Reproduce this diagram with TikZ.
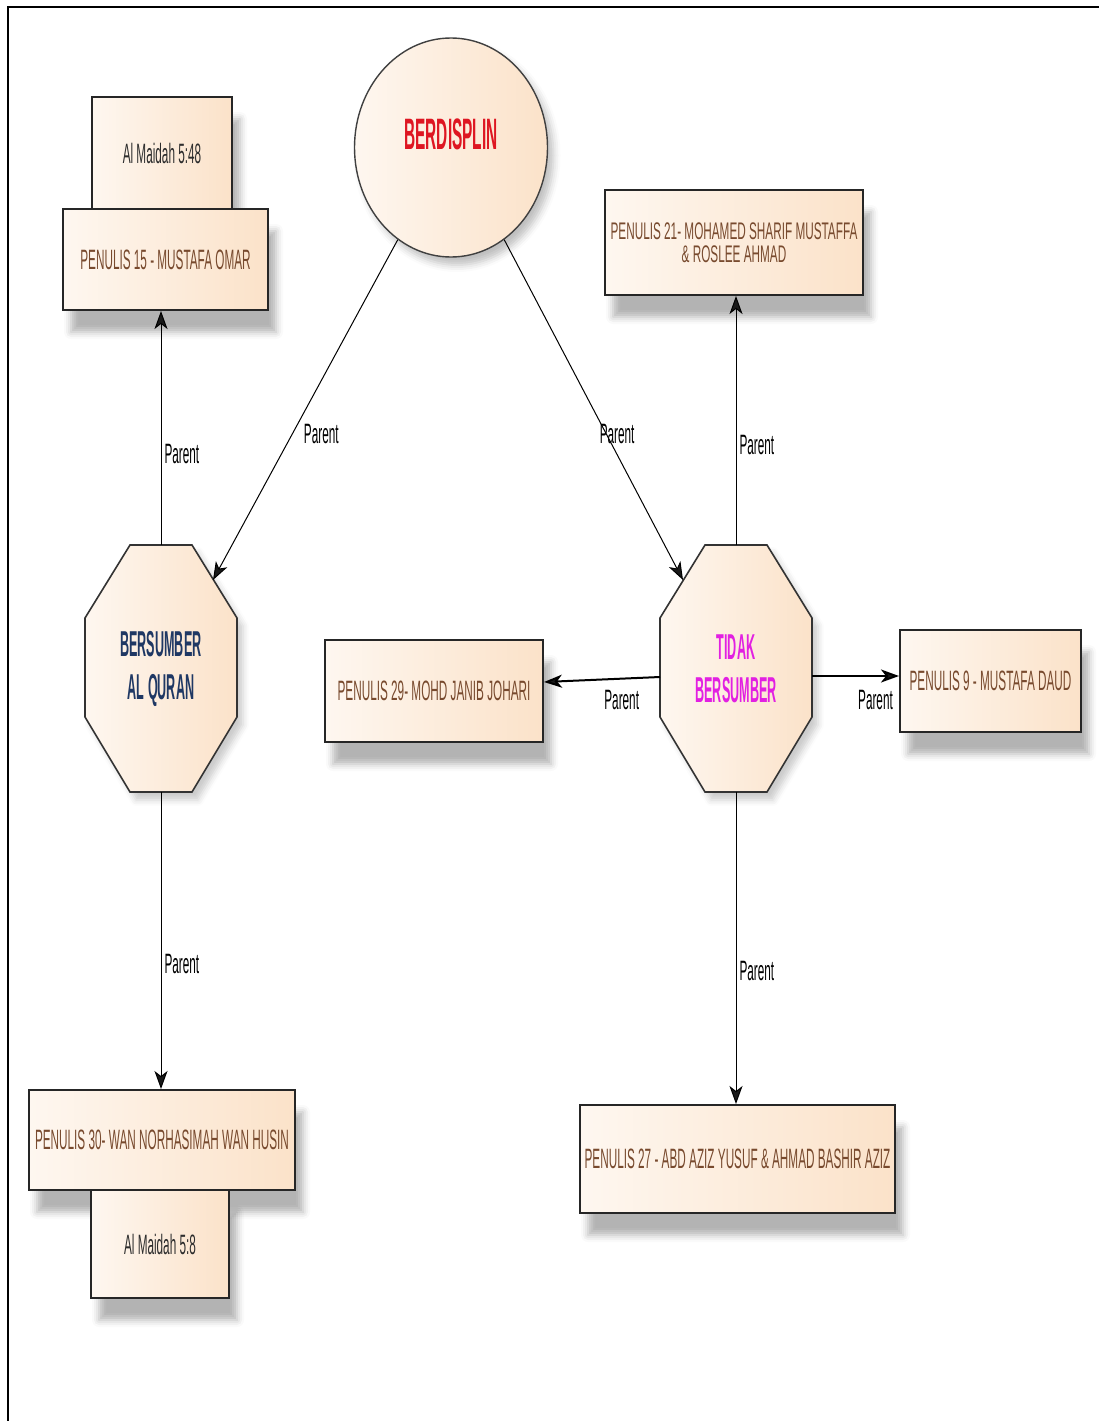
\documentclass[tikz,border=0pt]{standalone}
\usepackage{fontspec}
\setmainfont{Liberation Sans}[FakeStretch=0.42]
\newfontfamily\headfont{Liberation Sans}[FakeStretch=0.35]
\newfontfamily\twolinefont{Liberation Sans}[FakeStretch=0.49]
\usetikzlibrary{arrows.meta,shapes.geometric,shadows.blur}

\definecolor{peachL}{RGB}{254,247,240}
\definecolor{peachR}{RGB}{251,226,201}
\definecolor{discred}{RGB}{222,22,34}
\definecolor{navy}{RGB}{31,56,100}
\definecolor{tdpink}{RGB}{226,32,226}
\definecolor{penbrown}{RGB}{120,74,46}
\definecolor{ayatgrey}{RGB}{45,45,45}

\tikzset{
  softshadow/.style={blur shadow={shadow xshift=8pt,shadow yshift=-22pt,shadow blur radius=7pt,shadow opacity=30}},
  box/.style={draw=black!85,line width=2pt,left color=peachL,right color=peachR,
    inner sep=2pt,align=center,text=penbrown,font=\fontsize{28}{32}\selectfont,softshadow},
  ayat/.style={box,text=ayatgrey},
  disc/.style={ellipse,draw=black!75,line width=1.4pt,left color=peachL,right color=peachR,
    minimum width=193pt,minimum height=219pt,inner sep=0pt,
    blur shadow={shadow xshift=6pt,shadow yshift=-8pt,shadow blur radius=7pt,shadow opacity=25}},
  octa/.style={draw=black!80,line width=1.6pt,left color=peachL,right color=peachR,
    blur shadow={shadow xshift=6pt,shadow yshift=-8pt,shadow blur radius=6pt,shadow opacity=20}},
  octtext/.style={minimum width=152pt,minimum height=247pt,inner sep=0pt,align=center,
    font=\headfont\bfseries\fontsize{36}{43}\selectfont},
  parent/.style={-{Stealth[length=18pt,width=13pt,inset=5pt]},line width=1pt},
  lbl/.style={inner sep=3pt,font=\fontsize{28}{32}\selectfont}
}

\begin{document}
\begin{tikzpicture}[x=1pt,y=-1pt]
\useasboundingbox (0,0) rectangle (1099,1421);
% frame
\draw[line width=2.5pt] (8,1421) -- (8,7) -- (1099,7);

% main theme
\node[disc] (disc) at (451,147.5) {};
\node[text=discred,font=\headfont\bfseries\fontsize{44}{48}\selectfont] (discname) at (451,134) {BERDISPLIN};

% the two octagons
\draw[octa] (130,545) -- (192,545) -- (237,618) -- (237,717) -- (192,792) -- (130,792) -- (85,717) -- (85,618) -- cycle;
\node[octtext,text=navy] (bq) at (161,668.5) {BERSUMBER\\AL QURAN};
\draw[octa] (705,545) -- (767,545) -- (812,618) -- (812,717) -- (767,792) -- (705,792) -- (660,717) -- (660,618) -- cycle;
\node[octtext,text=tdpink] (td) at (736,668.5) {TIDAK\\BERSUMBER};
\coordinate (bq-ne) at (213,580);
\coordinate (td-nw) at (683,580);
\coordinate (td-w) at (660,677);
\coordinate (td-e) at (812,676);

% writers
\node[ayat,minimum width=140pt,minimum height=112pt] (maidah48) at (162,153) {Al Maidah 5:48};
\node[box,minimum width=205pt,minimum height=101pt] (p15) at (165.5,259.5) {PENULIS 15 - MUSTAFA OMAR};
\node[box,minimum width=258pt,minimum height=105pt,font=\twolinefont\fontsize{24}{23}\selectfont] (p21) at (734,242.5)
  {PENULIS 21- MOHAMED SHARIF MUSTAFFA\\\& ROSLEE AHMAD};
\node[box,minimum width=218pt,minimum height=102pt] (p29) at (434,691) {PENULIS 29- MOHD JANIB JOHARI};
\node[box,minimum width=181pt,minimum height=102pt] (p9) at (990.5,681) {PENULIS 9 - MUSTAFA DAUD};
\node[box,minimum width=266pt,minimum height=100pt] (p30) at (162,1140) {PENULIS 30- WAN NORHASIMAH WAN HUSIN};
\node[ayat,minimum width=138pt,minimum height=108pt] (maidah8) at (160,1244) {Al Maidah 5:8};
\node[box,minimum width=315pt,minimum height=108pt] (p27) at (737.5,1159) {PENULIS 27 - ABD AZIZ YUSUF \& AHMAD BASHIR AZIZ};

% links
\draw[parent] (disc.-120) -- node[lbl,pos=0.57,right,xshift=8pt] {Parent} (bq-ne);
\draw[parent] (disc.-60) -- node[lbl,pos=0.57,xshift=11pt] {Parent} (td-nw);
\draw[parent] (bq.north) -- node[lbl,pos=0.39,right] {Parent} (bq.north |- p15.south);
\draw[parent] (bq.south) -- node[lbl,pos=0.58,right] {Parent} (bq.south |- p30.north);
\draw[parent] (td.north) -- node[lbl,pos=0.40,right] {Parent} (td.north |- p21.south);
\draw[parent] (td.south) -- node[lbl,pos=0.575,right] {Parent} (td.south |- p27.north);
\draw[parent,line width=2pt] (td-w) -- node[lbl,pos=0.33,below,yshift=-8pt] {Parent} ([yshift=9pt]p29.east);
\draw[parent,line width=2pt] (td-e) -- node[lbl,pos=0.73,below,yshift=-10pt] {Parent} (td-e -| p9.west);
\end{tikzpicture}
\end{document}
